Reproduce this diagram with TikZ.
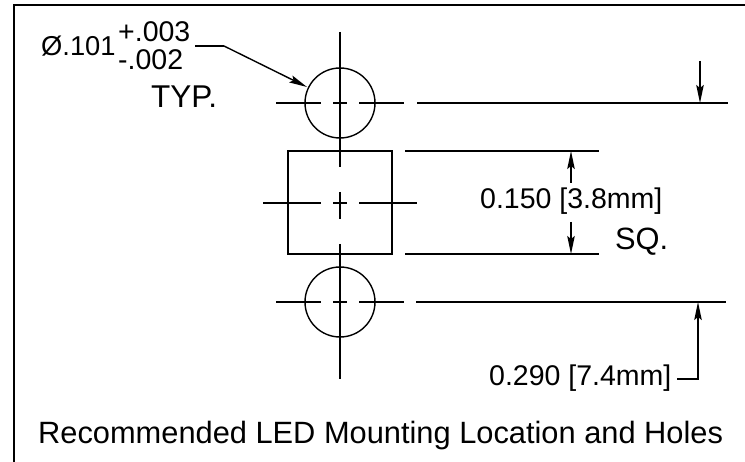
\documentclass[tikz,border=0pt]{standalone}
\usepackage{fontspec}
\setmainfont{Liberation Sans}
\usetikzlibrary{arrows.meta,positioning}
\begin{document}
\begin{tikzpicture}[
    x=1pt, y=-1pt,
    part/.style={line width=1.4pt, draw=black},
    arrow/.style={part, -{Stealth[length=18pt,width=7.5pt,inset=3pt]}},
    lbl/.style={inner sep=0pt, anchor=base west, font=\fontsize{28.5}{28.5}\selectfont},
    big/.style={lbl, font=\fontsize{30.8}{30.8}\selectfont}
]
    \useasboundingbox (0,0) rectangle (745,462);
    \draw[part] (14,462) -- (14,5) -- (745,5);

    % holes and square
    \node[part, draw, circle, minimum size=70pt, inner sep=0pt] (holetop) at (340,103) {};
    \node[part, draw, circle, minimum size=70pt, inner sep=0pt] (holebot) at (340,302) {};
    \node[part, draw, rectangle, minimum width=104pt, minimum height=103pt, inner sep=0pt] (pad) at (340,202.5) {};

    % center lines
    \coordinate (vt1) at (340,32);
    \coordinate (vt2) at (340,167);
    \coordinate (vm1) at (340,192);
    \coordinate (vm2) at (340,219);
    \coordinate (vb1) at (340,244);
    \coordinate (vb2) at (340,379);
    \draw[part] (vt1) -- (vt2);
    \draw[part] (vm1) -- (vm2);
    \draw[part] (vb1) -- (vb2);
    \foreach \yy/\xa/\xb in {103/276/404, 203/263/417, 302/276/404} {
        \draw[part] (\xa,\yy) -- (321,\yy);
        \draw[part] (333,\yy) -- (347,\yy);
        \draw[part] (359,\yy) -- (\xb,\yy);
    }

    % extension lines
    \coordinate (exta1) at (417,103);
    \coordinate (exta2) at (728,103);
    \coordinate (extb1) at (405,151);
    \coordinate (extb2) at (599,151);
    \coordinate (extc1) at (405,254);
    \coordinate (extc2) at (599,254);
    \coordinate (extd1) at (416,302);
    \coordinate (extd2) at (726,302);
    \draw[part] (exta1) -- (exta2);
    \draw[part] (extb1) -- (extb2);
    \draw[part] (extc1) -- (extc2);
    \draw[part] (extd1) -- (extd2);

    % labels
    \node[lbl, font=\fontsize{27.3}{27.3}\selectfont] (dia) at (41,56) {Ø.101};
    \node[lbl] (plus) at (118,42) {+.003};
    \node[lbl] (minus) at (118,70) {-.002};
    \node[big, font=\fontsize{31.5}{31.5}\selectfont] (typ) at (151,108) {TYP.};
    \node[lbl] (sqsize) at (480,209) {0.150 [3.8mm]};
    \node[big] (sq) at (615,250) {SQ.};
    \node[lbl] (pitch) at (489,386) {0.290 [7.4mm]};
    \node[big] (title) at (38,443) {Recommended LED Mounting Location and Holes};

    % dimension arrows
    \coordinate (lead0) at (195,46);
    \coordinate (lead) at (224,46);
    \coordinate (leadtip) at (307,87);
    \draw[part] (lead0) -- (lead);
    \draw[arrow] (lead) -- (leadtip);
    \coordinate (aa1) at (571,183);
    \coordinate (aa2) at (571,151);
    \coordinate (ab1) at (571,222);
    \coordinate (ab2) at (571,254);
    \draw[arrow] (aa1) -- (aa2);
    \draw[arrow] (ab1) -- (ab2);
    \coordinate (ac1) at (700,61);
    \coordinate (ac2) at (700,103);
    \draw[arrow] (ac1) -- (ac2);
    \coordinate (ad1) at (677,379);
    \coordinate (ad2) at (698,379);
    \coordinate (ad3) at (698,302);
    \draw[arrow] (ad1) -- (ad2) -- (ad3);
\end{tikzpicture}
\end{document}
